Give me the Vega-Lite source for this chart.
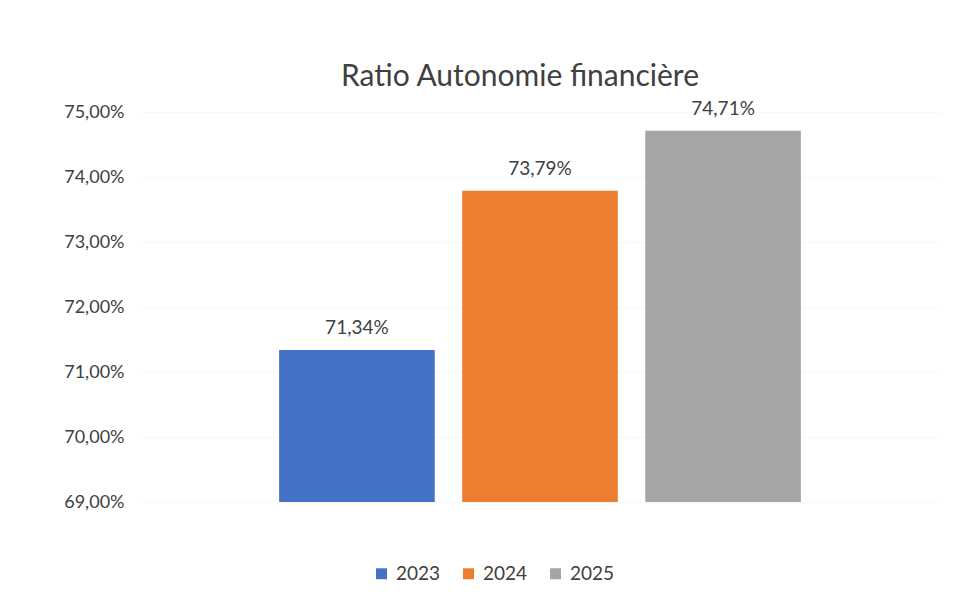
{
  "$schema": "https://vega.github.io/schema/vega-lite/v6.json",
  "autosize": "none",
  "width": 800,
  "height": 390,
  "padding": {"left": 140, "top": 112, "right": 38, "bottom": 112},
  "background": "white",
  "config": {
    "view": {"stroke": null},
    "locale": {"number": {"decimal": ",", "thousands": " ", "grouping": [3], "currency": ["", " €"]}}
  },
  "title": {
    "text": "Ratio Autonomie financière",
    "fontSize": 30,
    "font": "Lato",
    "fontWeight": "normal",
    "color": "#404040",
    "offset": 8,
    "dx": -20
  },
  "data": {
    "values": [
      {"annee": "2023", "ratio": 0.7134},
      {"annee": "2024", "ratio": 0.7379},
      {"annee": "2025", "ratio": 0.7471}
    ]
  },
  "encoding": {
    "x": {
      "field": "annee",
      "type": "nominal",
      "scale": {"paddingInner": 0.15, "paddingOuter": 0.76},
      "axis": null
    },
    "y": {
      "field": "ratio",
      "type": "quantitative",
      "scale": {"domain": [0.69, 0.75], "zero": false, "clamp": true},
      "axis": {
        "title": null,
        "values": [0.69, 0.70, 0.71, 0.72, 0.73, 0.74, 0.75],
        "format": ".2%",
        "domain": false,
        "ticks": false,
        "labelPadding": 16,
        "labelFontSize": 18,
        "labelFont": "Lato",
        "labelColor": "#404040",
        "grid": true,
        "gridColor": "#f7f7f7"
      }
    }
  },
  "layer": [
    {
      "mark": {"type": "bar"},
      "encoding": {
        "color": {
          "field": "annee",
          "type": "nominal",
          "scale": {"domain": ["2023", "2024", "2025"], "range": ["#4472C4", "#ED7D31", "#A5A5A5"]},
          "legend": {
            "title": null,
            "orient": "none",
            "direction": "horizontal",
            "legendX": 232,
            "legendY": 452,
            "symbolType": "square",
            "symbolSize": 120,
            "symbolStrokeWidth": 0,
            "labelFontSize": 19,
            "labelFont": "Lato",
            "labelColor": "#404040",
            "columnPadding": 18,
            "labelOffset": 5
          }
        }
      }
    },
    {
      "mark": {"type": "text", "dy": -22, "fontSize": 19, "font": "Lato", "color": "#404040"},
      "encoding": {
        "text": {"field": "ratio", "type": "quantitative", "format": ".2%"}
      }
    }
  ]
}
